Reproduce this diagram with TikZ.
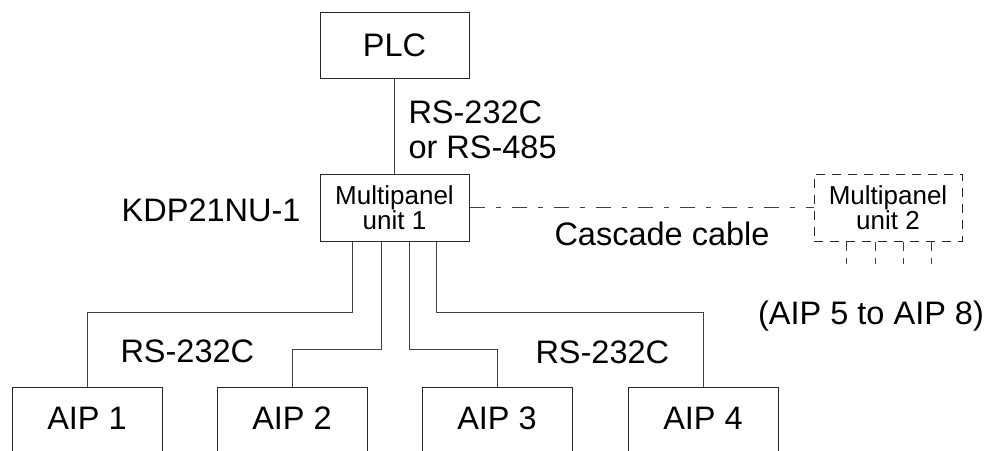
\documentclass[tikz,border=0pt]{standalone}
\usepackage{fontspec}
\setmainfont{Liberation Sans}
\usetikzlibrary{calc}
\begin{document}
\begin{tikzpicture}[x=1pt,y=-1pt,line width=1pt,
  box/.style={draw=black!85, inner sep=0pt, minimum width=149pt, align=center},
  big/.style={font=\fontsize{32.5}{35}\selectfont},
  small/.style={font=\fontsize{26}{25}\selectfont},
  aip/.style={draw=black!85, big, anchor=base, minimum width=150pt, inner xsep=0pt,
              inner ysep=19.6pt, text height=23pt, text depth=80pt},
  wire/.style={draw=black!75, line width=0.9pt},
  cascade/.style={draw=black!75, line width=0.9pt, dash pattern=on 15pt off 11pt on 5pt off 11pt},
  ghost/.style={dash pattern=on 9pt off 7pt}]
\clip (0,0) rectangle (991,450);
% boxes
\node[box,big,minimum height=66pt] (plc) at (394.5,45) {PLC};
\node[box,small,minimum height=67pt] (u1) at (394.5,207.5) {Multipanel\\unit 1};
\node[box,small,ghost,minimum height=67pt,minimum width=148pt] (u2) at (888,207.5) {Multipanel\\unit 2};
\node[aip] (a1) at (87,429.6) {AIP 1};
\node[aip] (a2) at (292,429.6) {AIP 2};
\node[aip] (a3) at (497,429.6) {AIP 3};
\node[aip] (a4) at (703,429.6) {AIP 4};
% connectors
\draw[wire] (plc.south) -- (u1.north);
\draw[wire] ($(u1.south west)+(33,0)$) -- ++(0,71) -| (a1.north);
\draw[wire] ($(u1.south west)+(62,0)$) -- ++(0,108) -| (a2.north);
\draw[wire] ($(u1.south west)+(90,0)$) -- ++(0,108) -| (a3.north);
\draw[wire] ($(u1.south west)+(117,0)$) -- ++(0,71) -| (a4.north);
\draw[cascade] (u1.east) -- (u2.west);
\foreach \dx in {33,62,90,118}
  \draw[wire,ghost] ($(u2.south west)+(\dx,0)$) -- ++(0,22);
% labels
\node[big,anchor=north west,inner sep=0pt,align=left] (lplc) at (408,100) {RS-232C\\or RS-485};
\node[big,anchor=east,inner sep=0pt] (kdp) at (301,210) {KDP21NU-1};
\node[big,inner sep=0pt] (casc) at (662,233.5) {Cascade cable};
\node[big,inner sep=0pt] (aip58) at (871,316.5) {(AIP 5 to AIP 8)};
\node[big,anchor=base west,inner sep=0pt] (rsl) at (120,362) {RS-232C};
\node[big,anchor=base west,inner sep=0pt] (rsr) at (535,363) {RS-232C};
\end{tikzpicture}
\end{document}
